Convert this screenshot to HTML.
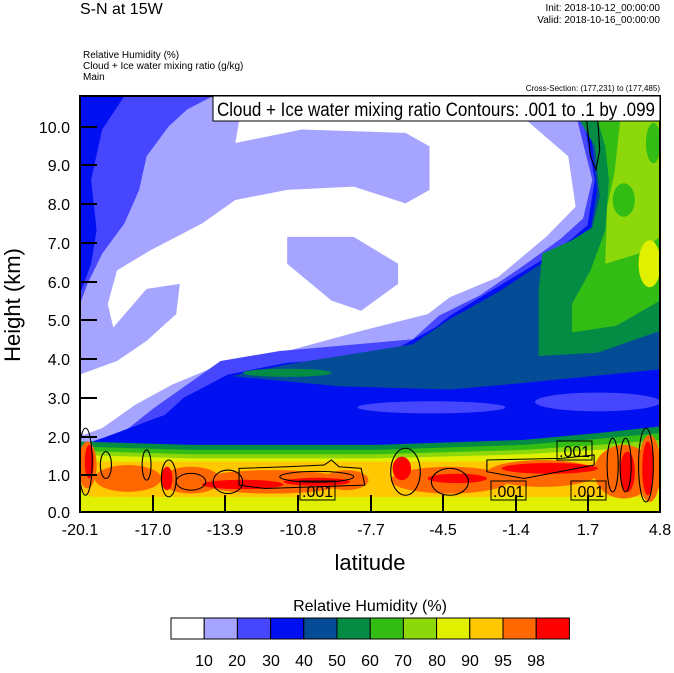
<!DOCTYPE html>
<html><head><meta charset="utf-8"><style>
body{margin:0;background:#fff;width:674px;height:668px;overflow:hidden;font-family:"Liberation Sans",sans-serif}
svg text{font-family:"Liberation Sans",sans-serif}
</style></head><body>
<svg width="674" height="668" viewBox="0 0 674 668" xmlns="http://www.w3.org/2000/svg">
<rect width="674" height="668" fill="#fff"/>
<svg x="80" y="96" width="580" height="416" viewBox="0 0 1568 1240" preserveAspectRatio="none">
<rect width="1568" height="1240" fill="#a5a5ff"/>
<path d="M0,0 L360,0 L290,40 L240,90 L180,180 L160,280 L120,380 L60,470 L20,560 L0,620 Z" fill="#4646ff"/>
<path d="M0,0 L120,0 L60,100 L30,250 L45,400 L30,500 L0,590 Z" fill="#0010f0"/>
<path d="M430,75 L1210,75 L1320,180 L1340,330 L1260,420 L1130,540 L1000,600 L940,650 L760,700 L560,760 L380,800 L250,860 L150,920 L60,990 L10,1010 L0,1000 L0,830 L100,790 L180,730 L260,650 L270,560 L180,575 L90,690 L75,620 L100,520 L190,460 L330,380 L420,310 L560,280 L740,270 L880,320 L945,280 L945,150 L880,110 L600,100 L420,140 Z" fill="#fff"/>
<path d="M560,420 L740,420 L860,500 L860,560 L760,640 L680,610 L560,500 Z" fill="#a5a5ff"/>
<path d="M0,1040 L120,1000 L200,930 L380,790 L540,760 L700,745 L900,725 L970,655 L1080,595 L1200,505 L1300,425 L1360,365 L1385,250 L1345,75 L1568,75 L1568,1240 L0,1240 Z" fill="#4646ff"/>
<path d="M0,1045 L230,950 L280,900 L400,830 L560,795 L820,775 L960,690 L1000,655 L1120,575 L1240,495 L1330,425 L1372,385 L1392,250 L1362,75 L1568,75 L1568,1240 L0,1240 Z" fill="#0010f0"/>
<path d="M410,835 L560,800 L900,740 L1000,665 L1130,585 L1240,505 L1330,445 L1380,405 L1398,280 L1378,75 L1568,75 L1568,815 L1200,855 L1000,875 L700,865 Z" fill="#044c96"/>
<path d="M0,1050 L240,955 L420,895 L700,885 L1000,895 L1200,875 L1568,835 L1568,1240 L0,1240 Z" fill="#0010f0"/>
<ellipse cx="950" cy="928" rx="200" ry="18" fill="#4646ff"/>
<ellipse cx="1400" cy="912" rx="170" ry="28" fill="#4646ff"/>
<ellipse cx="560" cy="825" rx="120" ry="12" fill="#048c44"/>
<path d="M1240,775 L1240,580 L1250,470 L1330,430 L1385,392 L1405,300 L1392,150 L1352,75 L1568,75 L1568,700 L1400,765 Z" fill="#048c44"/>
<path d="M1330,705 L1330,620 L1380,520 L1420,400 L1430,250 L1420,150 L1400,75 L1568,75 L1568,610 L1450,685 Z" fill="#32bc14"/>
<path d="M1420,500 L1425,330 L1445,230 L1460,75 L1568,75 L1568,420 L1510,470 Z" fill="#8cd80a"/>
<ellipse cx="1470" cy="310" rx="30" ry="50" fill="#32bc14"/>
<ellipse cx="1540" cy="500" rx="30" ry="70" fill="#e0f000"/>
<ellipse cx="1550" cy="140" rx="20" ry="60" fill="#32bc14"/>
<path d="M0,1030 L300,1040 L800,1040 L1200,1025 L1400,1005 L1568,985 L1568,1240 L0,1240 Z" fill="#048c44"/>
<path d="M0,1045 L300,1055 L800,1055 L1200,1040 L1400,1022 L1568,1005 L1568,1240 L0,1240 Z" fill="#32bc14"/>
<path d="M0,1058 L300,1068 L800,1068 L1200,1055 L1400,1040 L1568,1025 L1568,1240 L0,1240 Z" fill="#8cd80a"/>
<path d="M0,1070 L300,1080 L800,1080 L1200,1068 L1400,1055 L1568,1045 L1568,1240 L0,1240 Z" fill="#e0f000"/>
<g fill="#ffc800">
<rect x="0" y="1090" width="1568" height="105" rx="40"/>
</g>
<g fill="#ff6800">
<ellipse cx="130" cy="1140" rx="90" ry="40"/><ellipse cx="300" cy="1145" rx="80" ry="40"/>
<ellipse cx="520" cy="1150" rx="200" ry="35"/><ellipse cx="720" cy="1145" rx="60" ry="30"/>
<ellipse cx="1000" cy="1145" rx="160" ry="40"/><ellipse cx="1250" cy="1125" rx="150" ry="40"/>
<ellipse cx="1470" cy="1120" rx="80" ry="80"/><ellipse cx="1540" cy="1110" rx="30" ry="100"/>
<ellipse cx="20" cy="1100" rx="25" ry="70"/>
</g>
<g fill="#ff0000">
<ellipse cx="440" cy="1158" rx="110" ry="14"/><ellipse cx="640" cy="1150" rx="90" ry="12"/>
<ellipse cx="1020" cy="1140" rx="80" ry="14"/><ellipse cx="1270" cy="1110" rx="130" ry="16"/>
<ellipse cx="870" cy="1110" rx="25" ry="35"/><ellipse cx="1480" cy="1120" rx="20" ry="60"/>
<ellipse cx="1535" cy="1110" rx="15" ry="80"/><ellipse cx="25" cy="1090" rx="12" ry="50"/>
<ellipse cx="235" cy="1140" rx="15" ry="35"/>
</g>
<g fill="none" stroke="#000" stroke-width="3">
<ellipse cx="15" cy="1090" rx="18" ry="100"/><ellipse cx="70" cy="1100" rx="15" ry="40"/>
<ellipse cx="180" cy="1100" rx="12" ry="45"/><ellipse cx="240" cy="1140" rx="20" ry="55"/>
<ellipse cx="300" cy="1150" rx="40" ry="25"/><ellipse cx="400" cy="1150" rx="40" ry="35"/>
<path d="M430,1110 L560,1105 L660,1100 L680,1085 L700,1105 L760,1110 L770,1160 L500,1170 L430,1160 Z"/>
<ellipse cx="640" cy="1135" rx="100" ry="16"/>
<ellipse cx="880" cy="1120" rx="40" ry="70"/><ellipse cx="1000" cy="1150" rx="50" ry="40"/>
<path d="M1100,1085 L1300,1080 L1390,1070 L1390,1100 L1200,1140 L1100,1120 Z"/>
<ellipse cx="1440" cy="1100" rx="15" ry="80"/><ellipse cx="1475" cy="1100" rx="15" ry="80"/>
<ellipse cx="1530" cy="1100" rx="20" ry="110"/>
<path d="M1370,75 L1380,180 L1395,220 L1405,160 L1400,75"/>
</g>
</svg>
<rect x="80" y="96" width="580" height="416" fill="none" stroke="#000" stroke-width="2"/>
<rect x="213" y="96" width="447" height="25" fill="#fff" stroke="#000" stroke-width="1"/>
<text x="217" y="116" font-size="19" textLength="438" lengthAdjust="spacingAndGlyphs">Cloud + Ice water mixing ratio Contours: .001 to .1 by .099</text>
<g font-size="16" fill="#000">
<rect x="300" y="481" width="35" height="19" fill="none" stroke="#000"/><text x="302" y="497">.001</text>
<rect x="491" y="481" width="35" height="19" fill="none" stroke="#000"/><text x="493" y="497">.001</text>
<rect x="571" y="481" width="35" height="19" fill="none" stroke="#000"/><text x="573" y="497">.001</text>
<rect x="557" y="441" width="35" height="19" fill="none" stroke="#000"/><text x="559" y="457">.001</text>
</g>
<g stroke="#000" stroke-width="2">
<line x1="80" y1="127" x2="97" y2="127"/><line x1="80" y1="165" x2="97" y2="165"/><line x1="80" y1="204" x2="97" y2="204"/><line x1="80" y1="243" x2="97" y2="243"/><line x1="80" y1="282" x2="97" y2="282"/><line x1="80" y1="320" x2="97" y2="320"/><line x1="80" y1="359" x2="97" y2="359"/><line x1="80" y1="398" x2="97" y2="398"/><line x1="80" y1="437" x2="97" y2="437"/><line x1="80" y1="475" x2="97" y2="475"/>
<line x1="153" y1="512" x2="153" y2="495"/><line x1="225" y1="512" x2="225" y2="495"/><line x1="298" y1="512" x2="298" y2="495"/><line x1="371" y1="512" x2="371" y2="495"/><line x1="443" y1="512" x2="443" y2="495"/><line x1="516" y1="512" x2="516" y2="495"/><line x1="588" y1="512" x2="588" y2="495"/>
</g>
<g font-size="16" text-anchor="end">
<text x="70" y="133">10.0</text><text x="70" y="171">9.0</text><text x="70" y="210">8.0</text><text x="70" y="249">7.0</text><text x="70" y="288">6.0</text><text x="70" y="326">5.0</text><text x="70" y="365">4.0</text><text x="70" y="404">3.0</text><text x="70" y="443">2.0</text><text x="70" y="481">1.0</text><text x="70" y="518">0.0</text>
</g>
<g font-size="16" text-anchor="middle">
<text x="80" y="535">-20.1</text><text x="153" y="535">-17.0</text><text x="225" y="535">-13.9</text><text x="298" y="535">-10.8</text><text x="371" y="535">-7.7</text><text x="443" y="535">-4.5</text><text x="516" y="535">-1.4</text><text x="588" y="535">1.7</text><text x="660" y="535">4.8</text>
</g>
<text x="370" y="570" font-size="22" text-anchor="middle">latitude</text>
<text transform="translate(20,305) rotate(-90)" font-size="22" text-anchor="middle">Height (km)</text>
<text x="80" y="14" font-size="16">S-N at 15W</text>
<text x="660" y="11" font-size="10" text-anchor="end">Init: 2018-10-12_00:00:00</text>
<text x="660" y="23" font-size="10" text-anchor="end">Valid: 2018-10-16_00:00:00</text>
<text x="83" y="58" font-size="10">Relative Humidity   (%)</text>
<text x="83" y="69" font-size="10">Cloud + Ice water mixing ratio   (g/kg)</text>
<text x="83" y="80" font-size="10">Main</text>
<text x="660" y="91" font-size="8" text-anchor="end">Cross-Section: (177,231) to (177,485)</text>
<text x="370" y="611" font-size="16" text-anchor="middle">Relative Humidity  (%)</text>
<g stroke="#000" stroke-width="1">
<rect x="171" y="618" width="33.2" height="21" fill="#ffffff"/>
<rect x="204.2" y="618" width="33.2" height="21" fill="#a5a5ff"/>
<rect x="237.4" y="618" width="33.2" height="21" fill="#4646ff"/>
<rect x="270.6" y="618" width="33.2" height="21" fill="#0010f0"/>
<rect x="303.8" y="618" width="33.2" height="21" fill="#044c96"/>
<rect x="337" y="618" width="33.2" height="21" fill="#048c44"/>
<rect x="370.2" y="618" width="33.2" height="21" fill="#32bc14"/>
<rect x="403.4" y="618" width="33.2" height="21" fill="#8cd80a"/>
<rect x="436.6" y="618" width="33.2" height="21" fill="#e0f000"/>
<rect x="469.8" y="618" width="33.2" height="21" fill="#ffc800"/>
<rect x="503" y="618" width="33.2" height="21" fill="#ff6800"/>
<rect x="536.2" y="618" width="33.2" height="21" fill="#ff0000"/>
</g>
<g font-size="16" text-anchor="middle">
<text x="204" y="666">10</text><text x="237" y="666">20</text><text x="271" y="666">30</text><text x="304" y="666">40</text><text x="337" y="666">50</text><text x="370" y="666">60</text><text x="403" y="666">70</text><text x="437" y="666">80</text><text x="470" y="666">90</text><text x="503" y="666">95</text><text x="536" y="666">98</text>
</g>
</svg>
</body></html>
